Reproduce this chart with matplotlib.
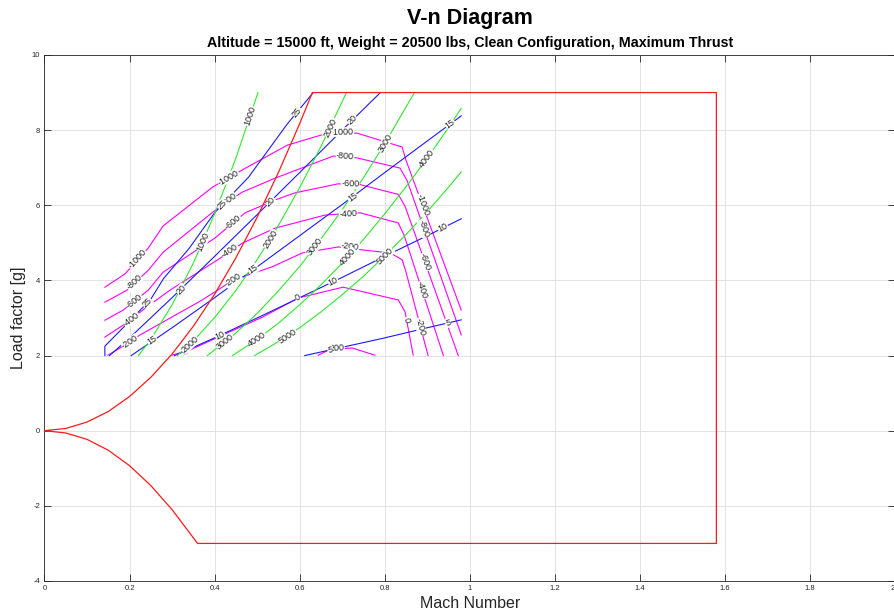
import numpy as np
import matplotlib
matplotlib.use("Agg")
import matplotlib.pyplot as plt

plt.rcParams['font.family'] = ['Liberation Sans', 'DejaVu Sans']
plt.rcParams['axes.unicode_minus'] = False

# V-n envelope (Mach, load factor)
pos_M = [0.0, 0.05, 0.1, 0.15, 0.2, 0.25, 0.3, 0.35, 0.4, 0.45, 0.5, 0.55, 0.6, 0.63]
pos_n = [0.0, 0.06, 0.23, 0.51, 0.91, 1.42, 2.04, 2.78, 3.63, 4.60, 5.68, 6.87, 8.17, 9.0]
neg_M = [0.0, 0.05, 0.1, 0.15, 0.2, 0.25, 0.3, 0.36]
neg_n = [0.0, -0.06, -0.23, -0.52, -0.93, -1.46, -2.10, -3.0]
M_max = 1.58
n_max = 9.0
n_min = -3.0

# specific excess power contours (magenta)
ps_levels = [-1000, -800, -600, -400, -200, 0, 200]
ps_M = [
    [0.142, 0.189, 0.244, 0.279, 0.396, 0.465, 0.571, 0.660, 0.735, 0.841, 0.850, 0.980],
    [0.142, 0.194, 0.244, 0.279, 0.396, 0.465, 0.542, 0.679, 0.735, 0.836, 0.853, 0.980],
    [0.142, 0.185, 0.244, 0.279, 0.401, 0.472, 0.542, 0.589, 0.690, 0.742, 0.832, 0.848, 0.973],
    [0.142, 0.185, 0.244, 0.295, 0.413, 0.465, 0.542, 0.660, 0.742, 0.832, 0.846, 0.938],
    [0.149, 0.182, 0.225, 0.371, 0.444, 0.535, 0.606, 0.691, 0.749, 0.813, 0.841, 0.850, 0.902],
    [0.300, 0.342, 0.514, 0.596, 0.702, 0.832, 0.848, 0.867],
    [0.644, 0.672, 0.724, 0.777],
]
ps_n = [
    [3.82, 4.17, 4.86, 5.45, 6.49, 6.94, 7.60, 7.90, 7.92, 7.55, 7.20, 3.21],
    [3.42, 3.74, 4.27, 4.75, 5.82, 6.35, 6.72, 7.31, 7.26, 6.99, 6.65, 2.55],
    [2.94, 3.21, 3.74, 4.22, 5.13, 5.80, 6.14, 6.33, 6.57, 6.55, 6.29, 5.97, 2.0],
    [2.49, 2.81, 3.32, 3.74, 4.59, 4.99, 5.39, 5.74, 5.80, 5.53, 5.19, 2.0],
    [2.01, 2.23, 2.55, 3.48, 4.01, 4.36, 4.73, 4.89, 4.81, 4.73, 4.55, 4.23, 2.0],
    [2.01, 2.15, 3.03, 3.53, 3.82, 3.48, 3.16, 2.01],
    [2.01, 2.17, 2.20, 2.01],
]
ps_lab_M = [
    [0.218, 0.432, 0.700, 0.889],
    [0.211, 0.432, 0.707, 0.892],
    [0.211, 0.444, 0.719, 0.895],
    [0.204, 0.436, 0.714, 0.888],
    [0.201, 0.444, 0.719, 0.884],
    [0.331, 0.596, 0.851],
    [0.688],
]
ps_lab_n = [
    [4.57, 6.73, 7.95, 6.01],
    [3.95, 6.14, 7.31, 5.39],
    [3.45, 5.55, 6.56, 4.49],
    [2.97, 4.79, 5.77, 3.74],
    [2.36, 4.01, 4.89, 2.76],
    [2.11, 3.53, 2.95],
    [2.19],
]

# turn rate contours, deg/s (blue)
tr_levels = [25, 20, 15, 10, 5]
tr_M = [
    [0.142, 0.142, 0.19, 0.25, 0.28, 0.34, 0.40, 0.48, 0.57, 0.632],
    [0.153, 0.2, 0.3, 0.4, 0.5, 0.6, 0.7, 0.79],
    [0.204, 0.3, 0.4, 0.5, 0.6, 0.7, 0.8, 0.9, 0.98],
    [0.306, 0.4, 0.5, 0.6, 0.7, 0.8, 0.9, 0.98],
    [0.612, 0.7, 0.8, 0.9, 0.98],
]
tr_n = [
    [2.0, 2.25, 2.8, 3.5, 4.05, 4.85, 5.8, 6.75, 8.15, 9.0],
    [2.0, 2.47, 3.54, 4.64, 5.75, 6.87, 8.0, 9.0],
    [2.0, 2.74, 3.54, 4.36, 5.19, 6.02, 6.87, 7.71, 8.38],
    [2.0, 2.47, 3.0, 3.54, 4.08, 4.64, 5.19, 5.64],
    [2.0, 2.22, 2.47, 2.74, 2.95],
]
tr_lab_M = [[0.242, 0.418, 0.594], [0.321, 0.531, 0.724], [0.253, 0.491, 0.724, 0.954],
            [0.413, 0.679, 0.937], [0.672, 0.949]]
tr_lab_n = [[3.40, 6.01, 8.48], [3.76, 6.10, 8.27], [2.40, 4.29, 6.22, 8.16],
            [2.54, 3.97, 5.40], [2.15, 2.87]]

# turn radius contours, ft (green)
rt_levels = [1000, 2000, 3000, 4000, 5000]
rt_M = [
    [0.221, 0.25, 0.3, 0.35, 0.4, 0.45, 0.502],
    [0.3125, 0.35, 0.4, 0.45, 0.5, 0.55, 0.6, 0.65, 0.71],
    [0.383, 0.45, 0.5, 0.55, 0.6, 0.65, 0.7, 0.75, 0.8, 0.87],
    [0.442, 0.5, 0.55, 0.6, 0.65, 0.7, 0.75, 0.8, 0.85, 0.9, 0.95, 0.98],
    [0.494, 0.55, 0.6, 0.65, 0.7, 0.75, 0.8, 0.85, 0.9, 0.95, 0.98],
]
rt_n = [
    [2.0, 2.43, 3.35, 4.46, 5.77, 7.25, 9.0],
    [2.0, 2.39, 3.01, 3.73, 4.55, 5.46, 6.47, 7.56, 9.0],
    [2.0, 2.6, 3.12, 3.72, 4.37, 5.1, 5.88, 6.73, 7.64, 9.0],
    [2.0, 2.43, 2.86, 3.35, 3.88, 4.46, 5.09, 5.77, 6.49, 7.25, 8.07, 8.58],
    [2.0, 2.37, 2.74, 3.16, 3.62, 4.11, 4.65, 5.22, 5.83, 6.48, 6.89],
]
rt_lab_M = [[0.373, 0.484], [0.342, 0.531, 0.672], [0.425, 0.636, 0.801],
            [0.5, 0.714, 0.9], [0.571, 0.801]]
rt_lab_n = [[5.04, 8.37], [2.30, 5.10, 8.07], [2.36, 4.89, 7.66],
            [2.43, 4.63, 7.25], [2.52, 4.65]]

x_ticks = [0, 0.2, 0.4, 0.6, 0.8, 1, 1.2, 1.4, 1.6, 1.8, 2]
x_tick_labels = ['0', '0.2', '0.4', '0.6', '0.8', '1', '1.2', '1.4', '1.6', '1.8', '2']
y_ticks = [-4, -2, 0, 2, 4, 6, 8, 10]


def seg_angle(ax, xs, ys, x0, y0):
    pts = ax.transData.transform(np.column_stack([xs, ys]))
    p = ax.transData.transform((x0, y0))
    best = None
    for a, b in zip(pts[:-1], pts[1:]):
        d = b - a
        L = np.dot(d, d)
        if L == 0:
            continue
        t = np.clip(np.dot(p - a, d) / L, 0, 1)
        dist = np.linalg.norm(a + t * d - p)
        if best is None or dist < best[0]:
            best = (dist, d)
    ang = np.degrees(np.arctan2(best[1][1], best[1][0]))
    if ang > 90:
        ang -= 180
    if ang < -90:
        ang += 180
    return ang


fig = plt.figure(figsize=(8.95, 6.15), dpi=100)
ax = fig.add_axes([0.0497, 0.0553, 0.9503, 0.8553])
ax.set_xlim(0, 2)
ax.set_ylim(-4, 10)

families = [
    (ps_levels, ps_M, ps_n, ps_lab_M, ps_lab_n, '#ff00ff'),
    (tr_levels, tr_M, tr_n, tr_lab_M, tr_lab_n, '#1a1aff'),
    (rt_levels, rt_M, rt_n, rt_lab_M, rt_lab_n, '#2ee82e'),
]
for levels, Ms, ns, lMs, lns, col in families:
    for lev, xs, ys, lx, ly in zip(levels, Ms, ns, lMs, lns):
        ax.plot(xs, ys, color=col, lw=0.8, zorder=3)
        for x0, y0 in zip(lx, ly):
            ang = seg_angle(ax, xs, ys, x0, y0)
            ax.text(x0, y0, str(lev), rotation=ang, rotation_mode='anchor',
                    ha='center', va='center', fontsize=6.5, color='#222222',
                    bbox=dict(fc='white', ec='none', pad=0.2), zorder=4)

# envelope
env_M = pos_M + [M_max, M_max] + neg_M[::-1]
env_n = pos_n + [n_max, n_min] + neg_n[::-1]
ax.plot(env_M, env_n, color='#ff1a1a', lw=0.9, zorder=6)

ax.set_xticks(x_ticks)
ax.set_xticklabels(x_tick_labels)
ax.get_xticklabels()[-1].set_horizontalalignment('right')
ax.set_yticks(y_ticks)
ax.tick_params(direction='in', length=5, width=0.6, labelsize=5.5,
               colors='#262626', top=True, right=True, pad=3)
ax.grid(True, color='#dedede', lw=0.6)
ax.set_axisbelow(True)
for s in ax.spines.values():
    s.set_color('#262626')
    s.set_linewidth(0.6)

ax.set_xlabel('Mach Number', fontsize=11.5, color='#262626', labelpad=3)
ax.set_ylabel('Load factor [g]', fontsize=11.5, color='#262626', va='center')
ax.yaxis.set_label_coords(-0.031, 0.5)

fig.text(0.525, 0.970, 'V-n Diagram', ha='center', va='center',
         fontsize=15.5, fontweight='bold')
fig.text(0.525, 0.930, 'Altitude = 15000 ft, Weight = 20500 lbs, Clean Configuration, Maximum Thrust',
         ha='center', va='center', fontsize=10.3, fontweight='bold')

fig.savefig('out.png', dpi=100)
